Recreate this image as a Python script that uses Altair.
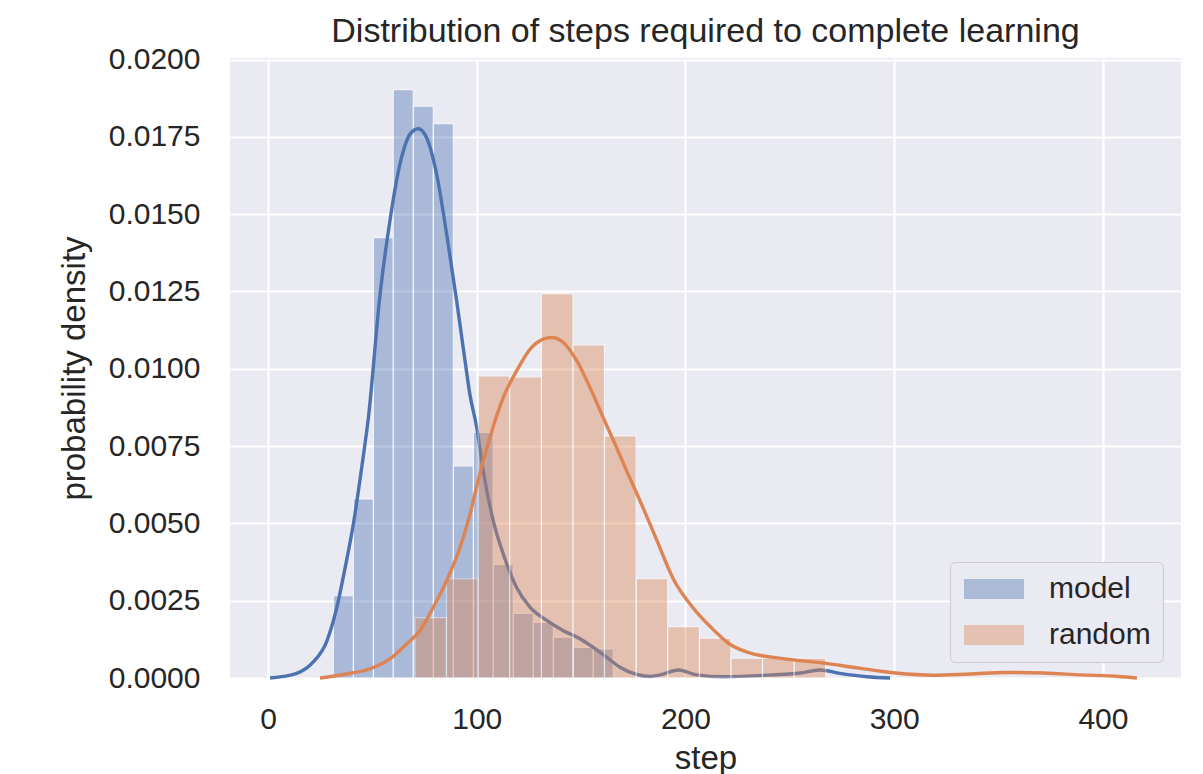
import altair as alt
import pandas as pd

# ---- data ----
model_bin_left = [31.3, 40.9, 50.5, 60.0, 69.6, 79.2, 88.8, 98.4, 107.9, 117.5, 127.1, 136.7, 146.3, 155.8]
model_bin_right = [40.9, 50.5, 60.0, 69.6, 79.2, 88.8, 98.4, 107.9, 117.5, 127.1, 136.7, 146.3, 155.8, 165.4]
model_density = [0.00266, 0.00579, 0.01424, 0.01903, 0.01849, 0.01793, 0.00686, 0.00794,
                 0.00367, 0.00209, 0.00180, 0.00132, 0.00099, 0.00094]

random_bin_left = [70.4, 85.5, 100.7, 115.8, 131.0, 146.1, 161.2, 176.4, 191.5, 206.7, 221.8, 236.9, 252.1]
random_bin_right = [85.5, 100.7, 115.8, 131.0, 146.1, 161.2, 176.4, 191.5, 206.7, 221.8, 236.9, 252.1, 267.2]
random_density = [0.00195, 0.00321, 0.00977, 0.00974, 0.01243, 0.01077, 0.00783, 0.00321,
                  0.00166, 0.00129, 0.00064, 0.00064, 0.00064]

model_kde_x = [1, 13.7, 21.7, 28.1, 32.9, 36.9, 40.9, 44.9, 48.1, 53.7, 58.4, 63.2, 68.0, 72.0,
               76.0, 80.8, 85.6, 90.4, 94.4, 96.7, 100.0, 103.1, 107.9, 112.7, 119.1, 125.5,
               133.5, 141.5, 149.5, 155.8, 162.3, 168.6, 176.6, 183.0, 187.8, 196.6, 205.4,
               218.0, 241.9, 254.9, 264.4, 274.0, 286.8, 298.0]
model_kde_y = [0.0, 0.00015, 0.00052, 0.00118, 0.00226, 0.00355, 0.00498, 0.00681, 0.00842,
               0.01241, 0.01478, 0.01661, 0.01758, 0.01776, 0.01747, 0.01629, 0.01435, 0.01219,
               0.01026, 0.00918, 0.0081, 0.0067, 0.00509, 0.00401, 0.00293, 0.00229, 0.00186,
               0.00153, 0.00127, 0.00099, 0.00067, 0.00035, 0.00012, 0.00005, 0.00010, 0.00026,
               0.00010, 0.00004, 0.00010, 0.00016, 0.00026, 0.00015, 0.00004, 0.0]

random_kde_x = [24.9, 37.7, 48.9, 58.4, 66.4, 72.8, 79.2, 85.6, 92.0, 96.8, 100.7, 106.3, 112.7,
                119.1, 125.5, 131.9, 135.9, 141.5, 147.9, 154.3, 160.6, 167.0, 171.8, 176.8,
                185.7, 194.5, 203.4, 212.2, 221.1, 229.9, 247.7, 265.4, 283.1, 300.8, 318.6,
                336.3, 354.0, 371.7, 389.5, 407.4, 416.3]
random_kde_y = [0.0, 0.00013, 0.00030, 0.00062, 0.0011, 0.00153, 0.00229, 0.00315, 0.00422,
                0.0053, 0.0064, 0.00778, 0.00907, 0.00993, 0.01063, 0.01096, 0.01101, 0.01085,
                0.01026, 0.00939, 0.00842, 0.00745, 0.0067, 0.00595, 0.00455, 0.00316, 0.00229,
                0.00164, 0.0011, 0.00083, 0.00062, 0.00049, 0.00032, 0.00016, 0.00009, 0.00013,
                0.00018, 0.00016, 0.00010, 0.00005, 0.0]

series_names = ["model", "random"]
series_colors = ["#4C72B0", "#DD8452"]
x_ticks = [0, 100, 200, 300, 400]
y_ticks = [0.0, 0.0025, 0.005, 0.0075, 0.01, 0.0125, 0.015, 0.0175, 0.02]

# ---- tables ----
bars = pd.concat([
    pd.DataFrame({"series": "model", "x0": model_bin_left, "x1": model_bin_right, "d": model_density}),
    pd.DataFrame({"series": "random", "x0": random_bin_left, "x1": random_bin_right, "d": random_density}),
], ignore_index=True)
kde_model = pd.DataFrame({"x": model_kde_x, "y": model_kde_y})
kde_random = pd.DataFrame({"x": random_kde_x, "y": random_kde_y})

FONT = "Liberation Sans"
TXT = "#262626"

xscale = alt.Scale(domain=[-18.2, 437.4], nice=False, zero=False)
yscale = alt.Scale(domain=[0, 0.02005], nice=False)
cscale = alt.Scale(domain=series_names, range=series_colors)

xaxis = alt.Axis(values=x_ticks, title="step", labelPadding=26, titlePadding=8)
yaxis = alt.Axis(values=y_ticks, format=".4f", title="probability density",
                 labelPadding=30, titlePadding=17)

def hist(name):
    return alt.Chart(bars).transform_filter(alt.datum.series == name).mark_rect(
        opacity=0.4, stroke="white", strokeWidth=1.2
    ).encode(
        x=alt.X("x0:Q", scale=xscale, axis=xaxis),
        x2="x1:Q",
        y=alt.Y("d:Q", scale=yscale, axis=yaxis),
        y2=alt.datum(0),
        color=alt.Color("series:N", scale=cscale, legend=alt.Legend(
            title=None, orient="none", legendX=720, legendY=504,
            symbolType="M-3,-1H3V1H-3Z", symbolSize=400, symbolOffset=17,
            symbolOpacity=0.4, symbolStrokeWidth=0,
            labelFont=FONT, labelFontSize=30, labelColor=TXT, labelOffset=40,
            rowPadding=16, padding=12,
            fillColor="#EAEAF2", strokeColor="#CCCCCC", cornerRadius=5,
        )),
    )

def kde(df, color):
    return alt.Chart(df).mark_line(color=color, strokeWidth=3.4, interpolate="monotone").encode(
        x=alt.X("x:Q", scale=xscale, axis=xaxis),
        y=alt.Y("y:Q", scale=yscale, axis=yaxis),
    )

chart = alt.layer(
    hist("model"), kde(kde_model, series_colors[0]),
    hist("random"), kde(kde_random, series_colors[1]),
).properties(
    width=951, height=620,
    title=alt.TitleParams("Distribution of steps required to complete learning",
                          font=FONT, fontSize=34, fontWeight="normal", color=TXT, offset=-4),
    padding={"left": 222, "top": 50, "right": 10, "bottom": 96},
    autosize=alt.AutoSizeParams(type="none"),
    background="white",
).configure_view(
    stroke=None, fill="#EAEAF2"
).configure_axis(
    grid=True, gridColor="white", gridWidth=2.2, domain=False, ticks=False, tickSize=0,
    labelFont=FONT, labelFontSize=30, labelColor=TXT,
    titleFont=FONT, titleFontSize=33, titleFontWeight="normal", titleColor=TXT,
)

chart.save("out.html", embed_options={"renderer": "svg", "actions": False})
